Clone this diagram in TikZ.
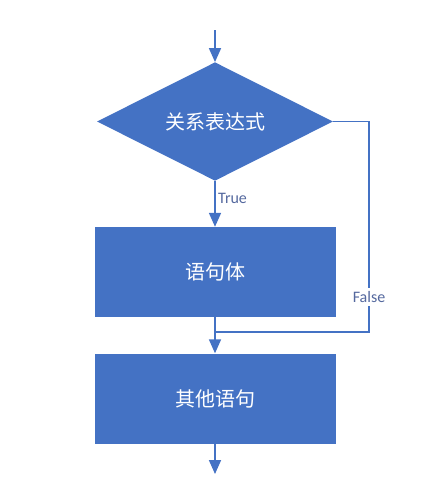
\documentclass[tikz,border=0pt]{standalone}
\usepackage{fontspec}
\setmainfont{Carlito}
\newfontfamily\cjk{Noto Sans CJK SC}
\usetikzlibrary{shapes.geometric,arrows.meta}
\definecolor{fcblue}{RGB}{68,114,196}
\definecolor{lblcol}{RGB}{84,104,158}
\tikzset{
  flow/.style={draw=fcblue,line width=1.7pt},
  arr/.style={flow,-{Triangle[length=14pt,width=12pt]}},
  decision/.style={diamond,fill=fcblue,draw=none,inner sep=0pt,minimum width=236pt,minimum height=117pt,text=white,font=\cjk\fontsize{20}{24}\selectfont},
  process/.style={rectangle,fill=fcblue,draw=none,inner sep=0pt,minimum width=241pt,minimum height=90pt,text=white,font=\cjk\fontsize{20}{24}\selectfont},
  lbl/.style={text=lblcol,font=\fontsize{16}{19}\selectfont,inner sep=1pt}
}
\begin{document}
\begin{tikzpicture}[x=1pt,y=-1pt]
\useasboundingbox (0,0) rectangle (425,504);
\node[decision] (cond) at (215,121.5) {关系表达式};
\node[process] (body) at (215.5,272) {语句体};
\node[process] (other) at (215.5,398.5) {其他语句};
\coordinate (start) at (215,30);
\coordinate (end) at (215,474);
\coordinate (rt) at (369,121.5);
\coordinate (rb) at (369,332);
\coordinate (join) at (215,332);
\draw[arr] (start) -- (cond.north);
\draw[arr] (cond.south) -- (body.north-|cond.south);
\node[lbl,anchor=west] (truelbl) at (217,198) {True};
\draw[flow] (cond.east) -- (rt) -- (rb) -- (join);
\node[lbl,fill=white,inner ysep=3pt] (falselbl) at (369,297) {False};
\draw[arr] (body.south-|cond.south) -- (other.north-|cond.south);
\draw[arr] (other.south-|cond.south) -- (end);
\end{tikzpicture}
\end{document}
